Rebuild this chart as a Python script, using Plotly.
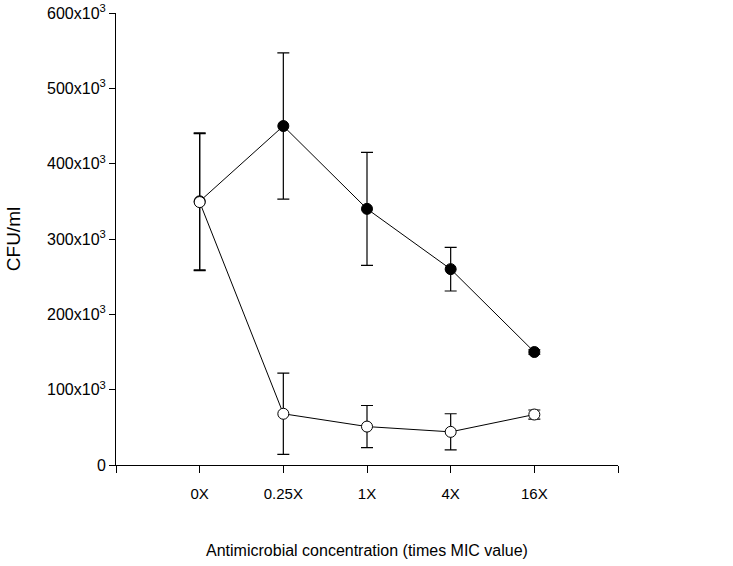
import plotly.graph_objects as go

# Concentration categories (times MIC value)
categories = ["0X", "0.25X", "1X", "4X", "16X"]
cat_pos = [1, 2, 3, 4, 5]

# Filled circles series (CFU/ml) with SD
filled_y = [350000, 450000, 340000, 260000, 150000]
filled_err = [91000, 97000, 75000, 29000, 3000]

# Open circles series (CFU/ml) with SD
open_y = [349000, 68000, 51000, 44000, 67000]
open_err = [91000, 54000, 28000, 24000, 6000]

y_ticks = [0, 100000, 200000, 300000, 400000, 500000, 600000]
y_ticktext = ["0"] + [f"{v // 1000}x10<sup>3</sup>" for v in y_ticks[1:]]

font = "Liberation Sans, Arial, sans-serif"

fig = go.Figure()

# Filled series first so the open marker at 0X sits on top
fig.add_trace(go.Scatter(
    x=cat_pos, y=filled_y, mode="lines+markers",
    line=dict(color="black", width=1),
    marker=dict(symbol="circle", size=11, color="black", line=dict(color="black", width=1)),
    error_y=dict(type="data", array=filled_err, color="black", thickness=1.2, width=6),
    showlegend=False,
))

fig.add_trace(go.Scatter(
    x=cat_pos, y=open_y, mode="lines+markers",
    line=dict(color="black", width=1),
    marker=dict(symbol="circle", size=11, color="white", line=dict(color="black", width=1)),
    error_y=dict(type="data", array=open_err, color="black", thickness=1.2, width=6),
    showlegend=False,
))

fig.update_layout(
    width=733, height=566,
    margin=dict(l=116, r=115, t=13, b=101),
    paper_bgcolor="white", plot_bgcolor="white",
    font=dict(family=font, size=15, color="black"),
    xaxis=dict(
        range=[0, 6],
        tickvals=[0] + cat_pos + [6],
        ticktext=[""] + categories + [""],
        tickfont=dict(size=15),
        showgrid=False, zeroline=False, automargin=False,
        showline=True, linecolor="black", linewidth=1,
        ticks="outside", ticklen=7, tickcolor="black", tickwidth=1,
        ticklabelstandoff=8,
        title=dict(text="Antimicrobial concentration (times MIC value)", standoff=43,
                   font=dict(size=16)),
    ),
    yaxis=dict(
        range=[0, 600000],
        tickvals=y_ticks,
        ticktext=y_ticktext,
        tickfont=dict(size=16),
        ticklabeloverflow="allow",
        showgrid=False, zeroline=False, automargin=False,
        showline=True, linecolor="black", linewidth=1,
        ticks="outside", ticklen=6, tickcolor="black", tickwidth=1,
        title=dict(text="CFU/ml", standoff=21, font=dict(size=19)),
    ),
)

# drop the default page margin so the figure sits at the window's corner
fig.write_html("out.html", config={"displayModeBar": False},
               post_script="document.body.style.margin = '0';")
